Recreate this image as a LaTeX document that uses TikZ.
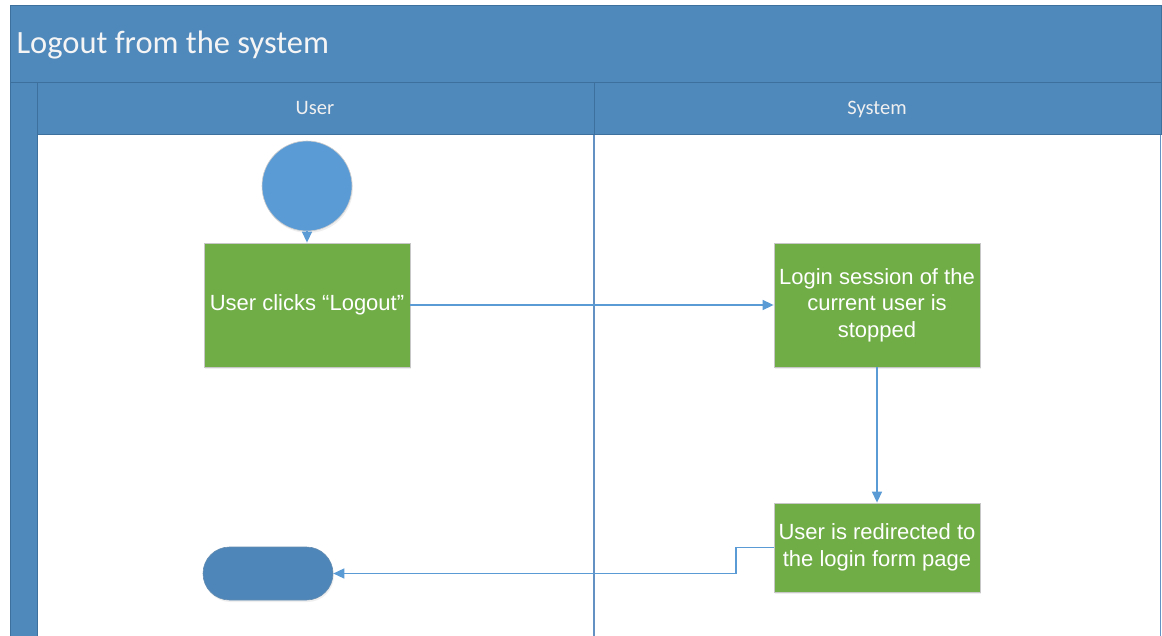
\documentclass[tikz,border=0pt]{standalone}
\usepackage{fontspec}
\setmainfont{Liberation Sans}
\newfontfamily\calibri{Carlito}
\usetikzlibrary{arrows.meta,shadows}
\definecolor{hdrfill}{RGB}{79,136,187}
\definecolor{hdrline}{RGB}{62,112,158}
\definecolor{startblue}{RGB}{91,155,213}
\definecolor{endblue}{RGB}{78,134,186}
\definecolor{taskgreen}{RGB}{112,173,71}
\definecolor{flowblue}{RGB}{91,155,213}
\definecolor{laneline}{RGB}{100,145,195}
\tikzset{
  task/.style={rectangle, fill=taskgreen, draw=black!22, line width=0.8pt,
    minimum width=206pt, align=center, text=white,
    font=\fontsize{22}{26.5}\selectfont,
    drop shadow={opacity=0.12, shadow xshift=1pt, shadow yshift=-2pt}},
  flow/.style={draw=flowblue, line width=1.4pt,
    -{Triangle[length=11pt,width=10pt]}},
  hdrtext/.style={anchor=base, text=white!94!black, font=\calibri\fontsize{20.5}{24}\selectfont},
}
\begin{document}
\begin{tikzpicture}[x=1pt,y=-1pt]
\useasboundingbox (0,0) rectangle (1162,636);
% pool frame: title bar, lane headers, left stripe
\fill[white] (10,6) rectangle (1161,636);
\draw[hdrline, fill=hdrfill, line width=1pt] (10,6) rectangle (1161,83);
\draw[hdrline, fill=hdrfill, line width=1pt] (37,83) rectangle (594,135);
\draw[hdrline, fill=hdrfill, line width=1pt] (594,83) rectangle (1161,135);
\draw[hdrline, fill=hdrfill, line width=1pt] (10,83) rectangle (37,640);
\draw[laneline, line width=1.4pt] (594,135) -- (594,640);
\draw[laneline, line width=1.4pt] (1160.5,135) -- (1160.5,640);
\node[anchor=west, text=white!96!black, font=\calibri\fontsize{32.5}{38}\selectfont] (title) at (13,45) {Logout from the system};
\node[hdrtext] (laneuser) at (315,115) {User};
\node[hdrtext] (lanesys) at (877,115) {System};
% flow nodes
\node[circle, fill=startblue, draw=black!20, line width=0.6pt, minimum size=90pt, inner sep=0pt,
  drop shadow={opacity=0.12, shadow xshift=1pt, shadow yshift=-2pt}] (start) at (307,186) {};
\node[task, minimum height=124pt] (click) at (307,305) {User clicks “Logout”};
\node[task, minimum height=124pt] (stop) at (877,305) {Login session of the\\current user is\\stopped};
\node[task, minimum height=89pt] (redirect) at (877,547.5) {User is redirected to\\the login form page};
\node[rectangle, rounded corners=26.5pt, fill=endblue, draw=hdrline!80, line width=0.6pt,
  minimum width=130pt, minimum height=53pt,
  drop shadow={opacity=0.12, shadow xshift=1pt, shadow yshift=-2pt}] (end) at (268,573.5) {};
\coordinate (bend) at (736,547.5);
% connectors
\draw[flow] (start) -- (click);
\draw[flow] (click) -- (stop);
\draw[flow] (stop) -- (redirect);
\draw[flow] (redirect.west) -- (bend) |- (end.east);
\end{tikzpicture}
\end{document}
